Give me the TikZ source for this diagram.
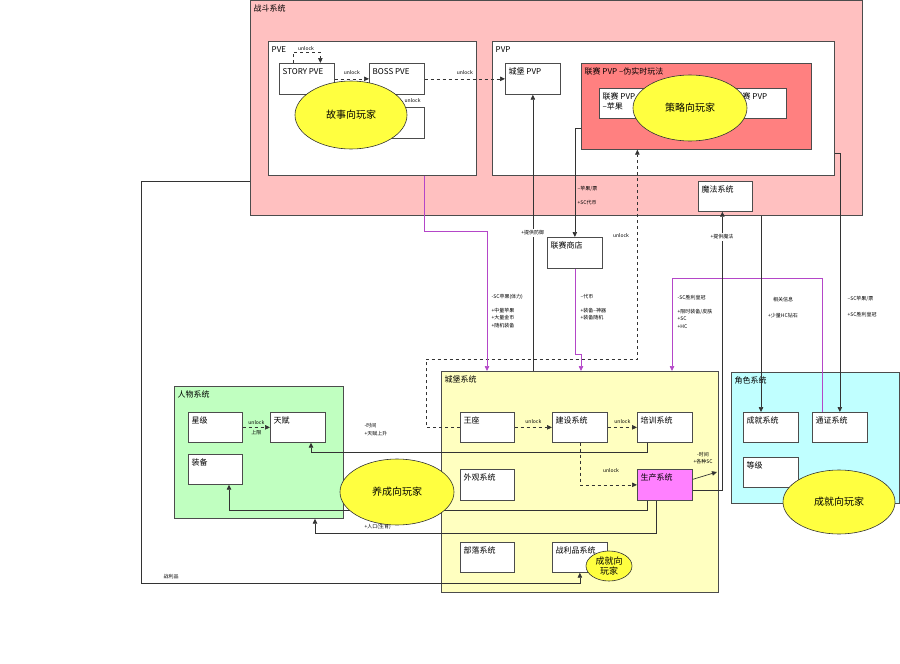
\documentclass[tikz,border=0pt]{standalone}
\usepackage{fontspec}
\setmainfont{Noto Sans CJK SC}
\usepackage{xcolor}
\usepackage{tikz}
\usetikzlibrary{arrows.meta,shapes.geometric}
\definecolor{fightpink}{RGB}{255,192,192}
\definecolor{leaguered}{RGB}{255,128,128}
\definecolor{castleyellow}{RGB}{255,255,192}
\definecolor{persongreen}{RGB}{192,255,192}
\definecolor{rolecyan}{RGB}{192,255,255}
\definecolor{prodpink}{RGB}{255,128,255}
\definecolor{playeryellow}{RGB}{255,255,64}
\definecolor{resline}{RGB}{180,70,200}

\begin{document}
\begin{tikzpicture}[x=1pt,y=-1pt]
\tikzstyle{sys}=[draw=black!70, fill=white, minimum width=55pt, minimum height=30pt, anchor=north west, inner sep=0pt, line width=0.7pt]
\tikzstyle{txt}=[anchor=north west, inner xsep=3.5pt, inner ysep=5pt, font=\fontsize{8}{9.5}\selectfont, align=left]
\tikzstyle{player}=[ellipse, draw=black!80, fill=playeryellow, font=\fontsize{10}{12}\selectfont, inner sep=0pt, line width=0.6pt]
\tikzstyle{link}=[draw=black!80, line width=0.7pt, -{Triangle[length=5pt,width=4.5pt]}]
\tikzstyle{unl}=[link, dashed]
\tikzstyle{purp}=[link, draw=resline]
\tikzstyle{note}=[font=\fontsize{5}{7.5}\selectfont, inner sep=0.5pt, align=left]
\useasboundingbox (0,0) rectangle (900,664);

% containers
\node[sys, minimum width=612pt, minimum height=215pt, fill=fightpink, label={[txt]north west:战斗系统}] (fight) at (250,0) {};
\node[sys, minimum width=208pt, minimum height=134pt, label={[txt]north west:PVE}] (pve) at (268,41) {};
\node[sys, minimum width=342pt, minimum height=134pt, label={[txt]north west:PVP}] (pvp) at (492,41) {};
\node[sys, minimum width=230pt, minimum height=86pt, fill=leaguered, label={[txt]north west:联赛 PVP –伪实时玩法}] (league) at (581,63) {};
\node[sys, minimum width=277pt, minimum height=221pt, fill=castleyellow, label={[txt]north west:城堡系统}] (castle) at (441,371) {};
\node[sys, minimum width=169pt, minimum height=132pt, fill=persongreen, label={[txt]north west:人物系统}] (person) at (174,386) {};
\node[sys, minimum width=168pt, minimum height=131pt, fill=rolecyan, label={[txt]north west:角色系统}] (role) at (731,372) {};

% fight
\node[sys, minimum height=31pt, label={[txt]north west:STORY PVE}] (story) at (279,63) {};
\node[sys, minimum height=31pt, label={[txt]north west:BOSS PVE}] (boss) at (369,63) {};
\node[sys, minimum height=31pt] (pvex) at (369,107) {};
\node[sys, minimum height=31pt, label={[txt]north west:城堡 PVP}] (cpvp) at (505,63) {};
\node[sys, minimum width=50pt, label={[txt]north west:联赛 PVP\\–苹果}] (lg1) at (599,88) {};
\node[sys, label={[txt]north west:联赛 PVP}] (lg2) at (731,88) {};
\node[sys, minimum width=54pt, label={[txt]north west:魔法系统}] (magic) at (698,181) {};
\node[sys, minimum height=31pt, label={[txt]north west:联赛商店}] (shop) at (547,237) {};

% castle
\node[sys, minimum width=54pt, label={[txt]north west:王座}] (throne) at (460,412) {};
\node[sys, label={[txt]north west:建设系统}] (build) at (552,412) {};
\node[sys, label={[txt]north west:培训系统}] (train) at (637,412) {};
\node[sys, minimum width=54pt, minimum height=31pt, label={[txt]north west:外观系统}] (look) at (460,469) {};
\node[sys, minimum height=31pt, fill=prodpink, label={[txt]north west:生产系统}] (prod) at (637,469) {};
\node[sys, minimum width=54pt, label={[txt]north west:部落系统}] (tribe) at (460,542) {};
\node[sys, label={[txt]north west:战利品系统}] (loot) at (552,542) {};

% person, role
\node[sys, minimum width=54pt, label={[txt]north west:星级}] (star) at (188,412) {};
\node[sys, label={[txt]north west:天赋}] (talent) at (270,412) {};
\node[sys, minimum width=54pt, label={[txt]north west:装备}] (equip) at (188,454) {};
\node[sys, label={[txt]north west:成就系统}] (ach) at (743,412) {};
\node[sys, label={[txt]north west:通证系统}] (token) at (812,412) {};
\node[sys, label={[txt]north west:等级}] (level) at (743,457) {};

\coordinate (sl) at (306,52);
\coordinate (du) at (426,359);
\coordinate (pm1) at (487,231);
\coordinate (pm2) at (581,354);
\coordinate (pm3) at (672,278);
\coordinate (c1) at (761,0);
\coordinate (pe) at (717,472);
\coordinate (tm) at (311,452);
\coordinate (em) at (229,510);
\coordinate (pp) at (315,533);
\coordinate (lt) at (141,181);
\coordinate (lb) at (141,583);

% unlocks
\draw[unl] ([xshift=-13.5pt]story.north) |- (sl) node[note, above=1pt]{unlock} -| ([xshift=13.5pt]story.north);
\draw[unl] (story.east) -- (boss.west) node[note, midway, above=3pt]{unlock};
\draw[unl] ([xshift=-12pt]boss.south) -- ([xshift=-12pt]pvex.north) node[note, midway, right=19pt]{unlock};
\draw[unl] (boss.east) -- (cpvp.west) node[note, midway, above=3pt]{unlock};
\draw[unl] (throne.west) -| (du) -| ([xshift=-59pt]league.south);
\node[note] at (621,236) {unlock};
\draw[unl] (star.east) -- (talent.west) node[note, midway, above=2pt]{unlock} node[note, midway, below=2pt]{上限};
\draw[unl] (throne.east) -- (build.west) node[note, midway, above=3pt]{unlock};
\draw[unl] (build.east) -- (train.west) node[note, midway, above=3pt]{unlock};
\draw[unl] (build.south) |- (prod.west);
\node[note] at (611,471) {unlock};

% resources
\draw[link] (castle.north -| cpvp.south) -- (cpvp.south) node[note, midway, fill=white, inner sep=1.5pt]{+提供防御};
\draw[link] ([yshift=-22pt]league.west) -| (shop.north);
\node[note, anchor=west] at (577,189) {–苹果/票};
\node[note, anchor=west] at (577,203) {+SC代币};
\draw[purp] ([xshift=52pt]pve.south) |- (pm1) -- (castle.north -| pm1);
\node[note, anchor=north west] at (491,294) {-SC苹果(体力)\\[6pt]+中量苹果\\+大量金币\\+随机装备};
\draw[purp] (shop.south) |- (pm2) -- (castle.north -| pm2);
\node[note, anchor=north west] at (580,294) {–代币\\[6pt]+装备–神器\\+装备随机};
\draw[purp] ([xshift=-17.5pt]token.north) |- (pm3) -- (castle.north -| pm3);
\node[note, anchor=north west] at (677,295) {-SC胜利皇冠\\[6pt]+限时装备/皮肤\\+SC\\+HC};
\draw[link] (fight.south -| c1) -- (ach.north -| c1);
\node[note] at (783,300) {相关信息};
\node[note] at (783,316) {+少量HC钻石};
\draw[link] ([yshift=-45pt]pvp.east) -| (token.north);
\node[note, anchor=west] at (847,299) {–SC苹果/票};
\node[note, anchor=west] at (847,315) {+SC胜利皇冠};
\draw[link] ([yshift=-5.5pt]prod.east) -| ([xshift=-3pt]magic.south);
\node[note, fill=white, inner sep=1.5pt] at (722,237) {+提供魔法};
\draw[link] ([yshift=5.5pt]prod.east) -- (pe);
\node[note, align=center] at (703,458) {-时间\\+各种SC};
\draw[link] ([xshift=-17.5pt]train.south) |- (tm) -- (talent.south -| tm);
\node[note, anchor=north west] at (364,423) {-时间\\+天赋上升};
\draw[link] ([xshift=-17.5pt]prod.south) |- (em) -- (equip.south -| em);
\draw[link] ([xshift=-8.5pt]prod.south) |- (pp) -- (person.south -| pp);
\node[note, anchor=north west] at (364,516) {-时间\\+人口(生育)};
\draw[link] (fight.west |- lt) -- (lt) -- (lb) -| (loot.south);
\node[note, anchor=west] at (163,577) {战利品};

% players
\node[player, minimum width=112pt, minimum height=68pt] (storyfan) at (351,115) {故事向玩家};
\node[player, minimum width=114pt, minimum height=66pt] (strategyfan) at (690,108) {策略向玩家};
\node[player, minimum width=114pt, minimum height=66pt] (growfan) at (397,492) {养成向玩家};
\node[player, minimum width=112pt, minimum height=64pt] (achfan) at (839,502) {成就向玩家};
\node[player, minimum width=46pt, minimum height=30pt, align=center, font=\fontsize{9}{10}\selectfont] (lootfan) at (609,566) {成就向\\玩家};

\end{tikzpicture}
\end{document}
